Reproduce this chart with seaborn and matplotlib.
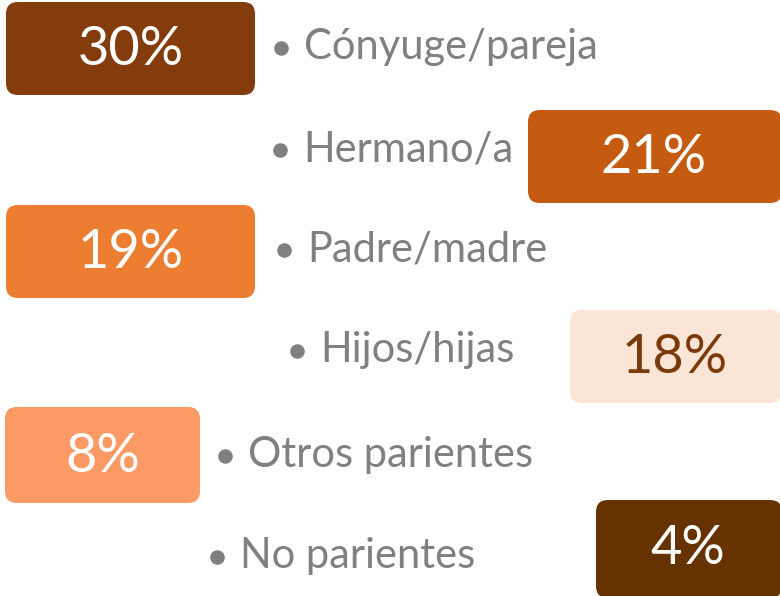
import matplotlib
matplotlib.use('Agg')
import matplotlib.pyplot as plt
from matplotlib.patches import FancyBboxPatch
import seaborn as sns

# data
categories = ['Cónyuge/pareja', 'Hermano/a', 'Padre/madre', 'Hijos/hijas', 'Otros parientes', 'No parientes']
values = [30, 21, 19, 18, 8, 4]
box_colors = ['#843C0C', '#C55A11', '#ED7D31', '#FBE5D6', '#FC9A66', '#663300']
value_colors = ['white', 'white', 'white', '#7B3A0A', 'white', 'white']

# layout (pixel units, canvas 780x596)
box_left = [6, 528, 6, 570, 5, 596]
box_right = [255, 782, 255, 782, 200, 782]
box_top = [2, 110, 205, 310, 407, 500]
box_bottom = [95, 203, 298, 403, 503, 598]
bullet_x = [281, 280, 284, 297, 225, 217]
label_y = [47, 149, 249, 350, 455, 556]

sns.set_theme(style='white')
plt.rcParams['font.family'] = ['Lato', 'DejaVu Sans']

fig = plt.figure(figsize=(7.8, 5.96), dpi=100)
ax = fig.add_axes([0, 0, 1, 1])
ax.set_xlim(0, 780)
ax.set_ylim(596, 0)
ax.axis('off')

for i, cat in enumerate(categories):
    x0, x1 = box_left[i], box_right[i]
    y0, y1 = box_top[i], box_bottom[i]
    ax.add_patch(FancyBboxPatch((x0, y0), x1 - x0, y1 - y0,
                                boxstyle='round,pad=0,rounding_size=12',
                                facecolor=box_colors[i], edgecolor='none'))
    ax.text((x0 + min(x1, 780)) / 2, (y0 + min(y1, 596)) / 2 + 1, f'{values[i]}%',
            ha='center', va='center', fontsize=39, color=value_colors[i])
    ax.scatter([bullet_x[i]], [label_y[i] + 1], s=110, color='#808080', zorder=3,
               linewidths=0)
    ax.text(bullet_x[i] + 23, label_y[i], cat, ha='left', va='center',
            fontsize=30, color='#808080')

fig.savefig('out.png', dpi=100)
